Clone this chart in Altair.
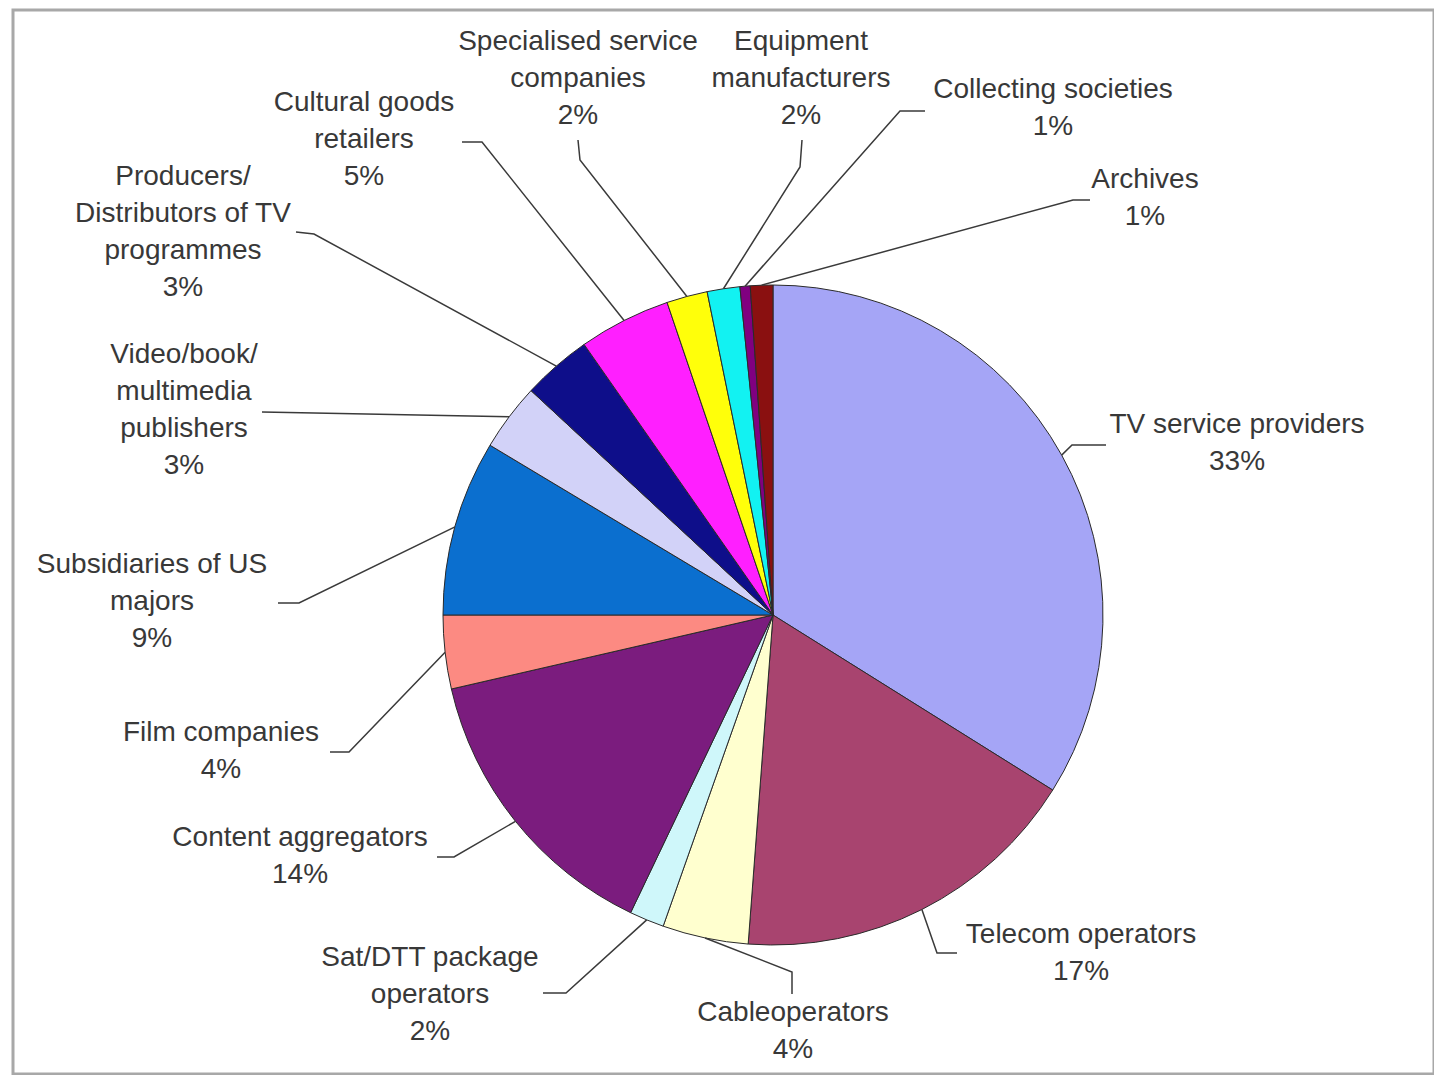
import altair as alt
import pandas as pd
import numpy as np

# ---------------- data ----------------
categories = [
    "TV service providers", "Telecom operators", "Cableoperators",
    "Sat/DTT package operators", "Content aggregators", "Film companies",
    "Subsidiaries of US majors", "Video/book/ multimedia publishers",
    "Producers/ Distributors of TV programmes", "Cultural goods retailers",
    "Specialised service companies", "Equipment manufacturers",
    "Collecting societies", "Archives",
]
shares = [33.9, 17.3, 4.2, 1.7, 14.3, 3.6, 8.6, 3.3, 3.4, 4.5, 2.0, 1.6, 0.5, 1.1]
pct_labels = ["33%", "17%", "4%", "2%", "14%", "4%", "9%", "3%", "3%", "5%",
              "2%", "2%", "1%", "1%"]
label_text = [
    "TV service providers", "Telecom operators", "Cableoperators",
    "Sat/DTT package\noperators", "Content aggregators", "Film companies",
    "Subsidiaries of US\nmajors", "Video/book/\nmultimedia\npublishers",
    "Producers/\nDistributors of TV\nprogrammes", "Cultural goods\nretailers",
    "Specialised service\ncompanies", "Equipment\nmanufacturers",
    "Collecting societies", "Archives",
]
colors = ["#A5A5F6", "#A8446F", "#FFFFCF", "#CFF7FA", "#7B1C7E", "#FC8A82",
          "#0B6FCF", "#D2D2F8", "#0E0E8A", "#FF1FFF", "#FFFF0A", "#12F2F2",
          "#800080", "#8A1010"]

# ---------------- layout (page pixel coordinates) ----------------
W, H = 1421, 1064
OX, OY = 13, 10            # page position of the plot origin
CX, CY, R = 773, 615, 330  # pie centre and radius
LINE_H = 37
# label block: centre x, first line y
label_pos = [(1237, 425), (1081, 935), (793, 1013), (430, 958), (300, 838),
             (221, 733), (152, 565), (184, 355), (183, 177), (364, 103),
             (578, 42), (801, 42), (1053, 90), (1145, 180)]
# leader lines: elbow point and end point next to the label
leader = [((1072, 445), (1106, 445)), ((937, 953), (957, 953)),
          ((792, 972), (792, 994)), ((566, 993), (543, 993)),
          ((454, 857), (437, 857)), ((349, 752), (330, 752)),
          ((299, 603), (278, 603)), ((470, 416), (262, 412)),
          ((314, 234), (296, 232)), ((482, 142), (462, 142)),
          ((580, 160), (578, 140)), ((800, 167), (802, 140)),
          ((900, 111), (925, 111)), ((1073, 200), (1090, 200))]

df = pd.DataFrame({"category": categories, "share": shares,
                   "idx": list(range(len(categories)))})

# leader start points: on the pie edge at each slice's mid angle
frac = np.array(shares) / np.sum(shares)
mid = (np.cumsum(frac) - frac / 2) * 2 * np.pi
rows = []
for i, c in enumerate(categories):
    sx = CX + R * np.sin(mid[i])
    sy = CY - R * np.cos(mid[i])
    (bx, by), (ex, ey) = leader[i]
    for k, (px, py) in enumerate([(sx, sy), (bx, by), (ex, ey)]):
        rows.append({"category": c, "k": k, "px": px, "py": py})
lines_df = pd.DataFrame(rows)

trows = []
for i, c in enumerate(categories):
    parts = label_text[i].split("\n") + [pct_labels[i]]
    lx, ly = label_pos[i]
    for j, p in enumerate(parts):
        trows.append({"category": c, "line": p, "px": lx, "py": ly + j * LINE_H})
text_df = pd.DataFrame(trows)

xs = alt.Scale(domain=[OX, OX + W], range=[0, W], zero=False, nice=False)
ys = alt.Scale(domain=[OY, OY + H], range=[0, H], zero=False, nice=False)

pie = alt.Chart(df).mark_arc(radius=R, stroke="#2a2a2a", strokeWidth=1).encode(
    theta=alt.Theta("share:Q", stack=True),
    order=alt.Order("idx:Q"),
    color=alt.Color("category:N", scale=alt.Scale(domain=categories, range=colors),
                    legend=None),
    x=alt.value(CX - OX),
    y=alt.value(CY - OY),
)

lines = alt.Chart(lines_df).mark_line(color="#3a3a3a", strokeWidth=1.5).encode(
    x=alt.X("px:Q", scale=xs, axis=None),
    y=alt.Y("py:Q", scale=ys, axis=None),
    detail="category:N",
    order="k:Q",
)

texts = alt.Chart(text_df).mark_text(
    font="Liberation Sans", fontSize=28, color="#383838",
    align="center", baseline="middle",
).encode(
    x=alt.X("px:Q", scale=xs, axis=None),
    y=alt.Y("py:Q", scale=ys, axis=None),
    text="line:N",
)

chart = alt.layer(pie, lines, texts).properties(
    width=W, height=H,
    padding={"left": 5, "top": 2, "right": 0, "bottom": 1},
    autosize=alt.AutoSizeParams(type="none"),
    background="white",
).configure_view(stroke="#a8a8a8", strokeWidth=3)

chart.save("out.html", embed_options={"renderer": "svg", "actions": False})
